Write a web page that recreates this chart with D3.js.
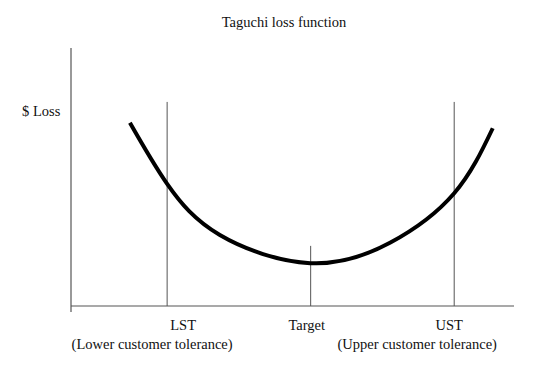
<!DOCTYPE html>
<html>
<head>
<meta charset="utf-8">
<script src="https://cdn.jsdelivr.net/npm/d3@7"></script>
<style>
  body { margin: 0; background: #fff; }
  svg text { font-family: "Liberation Serif", "DejaVu Serif", serif; fill: #111; }
</style>
</head>
<body>
<div class="chart"></div>
<script>
var svgWidth = 538;
var svgHeight = 376;

// curve points (x position 0-100, loss 0-100)
var curveX = [13.3, 21.7, 33.6, 54.0, 72.0, 86.5, 95.2];
var curveLoss = [71.0, 47.3, 27.5, 16.6, 24.5, 43.7, 68.9];

// reference markers
var markerNames = ["LST", "Target", "UST"];
var markerX = [21.7, 54.1, 86.5];
var markerTop = [79.1, 23.3, 79.1];
var markerSub = ["(Lower customer tolerance)", "", "(Upper customer tolerance)"];

var svg = d3.select(".chart")
    .append("svg")
    .attr("width", svgWidth)
    .attr("height", svgHeight);

var xScale = d3.scaleLinear().domain([0, 100]).range([71, 514]);
var yScale = d3.scaleLinear().domain([0, 100]).range([306, 48]);

// title
svg.append("text")
    .attr("x", 284)
    .attr("y", 27)
    .attr("text-anchor", "middle")
    .attr("font-size", "14.5px")
    .text("Taguchi loss function");

// y axis label
svg.append("text")
    .attr("x", 22)
    .attr("y", 116)
    .attr("font-size", "14.5px")
    .text("$ Loss");

// axes drawn as plain lines
svg.append("line")
    .attr("x1", xScale(0)).attr("x2", xScale(0))
    .attr("y1", yScale(100)).attr("y2", yScale(0) + 6)
    .attr("stroke", "#555").attr("stroke-width", 1.2);

svg.append("line")
    .attr("x1", xScale(0)).attr("x2", xScale(100))
    .attr("y1", yScale(0)).attr("y2", yScale(0))
    .attr("stroke", "#555").attr("stroke-width", 1.2);

// vertical marker lines
svg.selectAll(".marker")
    .data(markerX)
    .enter()
    .append("line")
    .attr("class", "marker")
    .attr("x1", function (d) { return xScale(d); })
    .attr("x2", function (d) { return xScale(d); })
    .attr("y1", function (d, i) { return yScale(markerTop[i]); })
    .attr("y2", yScale(0))
    .attr("stroke", "#555").attr("stroke-width", 1);

// loss curve
var points = curveX.map(function (x, i) { return [x, curveLoss[i]]; });
var line = d3.line()
    .x(function (d) { return xScale(d[0]); })
    .y(function (d) { return yScale(d[1]); })
    .curve(d3.curveNatural);

svg.append("path")
    .datum(points)
    .attr("d", line)
    .attr("fill", "none")
    .attr("stroke", "#000")
    .attr("stroke-width", 4);

// marker labels
var labelDx = [16, -4, -5];
svg.selectAll(".mlabel")
    .data(markerNames)
    .enter()
    .append("text")
    .attr("class", "mlabel")
    .attr("x", function (d, i) { return xScale(markerX[i]) + labelDx[i]; })
    .attr("y", 330)
    .attr("text-anchor", "middle")
    .attr("font-size", "14.5px")
    .text(function (d) { return d; });

var subDx = [-15, 0, -37];
svg.selectAll(".msub")
    .data(markerSub)
    .enter()
    .append("text")
    .attr("class", "msub")
    .attr("x", function (d, i) { return xScale(markerX[i]) + subDx[i]; })
    .attr("y", 349)
    .attr("text-anchor", "middle")
    .attr("font-size", "14.5px")
    .text(function (d) { return d; });
</script>
</body>
</html>
